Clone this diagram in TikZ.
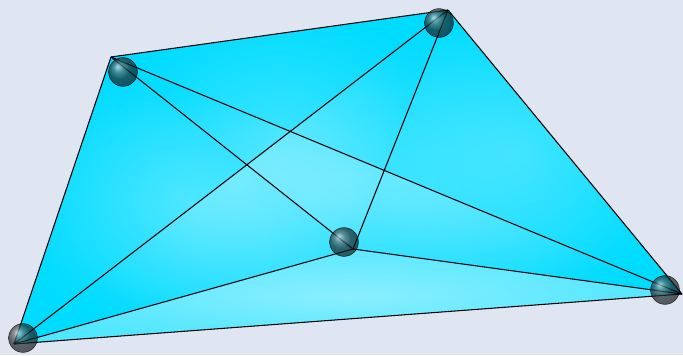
\documentclass[tikz,border=0pt]{standalone}
\usepackage{xcolor}
\definecolor{bgblue}{HTML}{E0E6F1}
\definecolor{sheetcyan}{HTML}{00DCFF}
\definecolor{atomgray}{HTML}{2A3438}

\begin{document}
\begin{tikzpicture}[
    x=0.025cm, y=-0.025cm,
    edge/.style={draw=black, line width=0.75pt},
    glow/.style={inner color=white!80!sheetcyan, outer color=sheetcyan, fill opacity=0.28},
    brightglow/.style={inner color=white!65!sheetcyan, outer color=white!40!sheetcyan, fill opacity=0.8},
    atom/.style={circle, minimum size=0.72cm, inner sep=0pt, draw=black, line width=0.4pt,
                 shading=ball, ball color=atomgray, opacity=0.68},
]
% Background
\fill[bgblue] (0,0) rectangle (683,355);
\useasboundingbox (0,0) rectangle (683,355);

% Corners of the sheet
\coordinate (p1) at (111,57);
\coordinate (p2) at (448,10);
\coordinate (p3) at (682,294);
\coordinate (p4) at (353,249);
\coordinate (p5) at (14,344);

% Sheet and its translucent faces
\fill[sheetcyan] (p1) -- (p2) -- (p3) -- (p5) -- cycle;
\foreach \a/\b/\c in {p1/p2/p4, p1/p3/p4, p1/p3/p5, p1/p4/p5,
                      p2/p3/p4, p2/p3/p5, p2/p4/p5}
    \shade[glow] (\a) -- (\b) -- (\c) -- cycle;
\shade[brightglow] (p3) -- (p4) -- (p5) -- cycle;

% Edges
\foreach \a/\b in {p1/p2, p1/p3, p1/p4, p1/p5, p2/p3,
                   p2/p4, p2/p5, p3/p4, p3/p5, p4/p5}
    \draw[edge] (\a) -- (\b);

% Atoms
\node[atom] (a1) at (123,72) {};
\node[atom] (a2) at (439,23) {};
\node[atom] (a3) at (665,290) {};
\node[atom] (a4) at (344,242) {};
\node[atom] (a5) at (23,338) {};

\end{tikzpicture}
\end{document}
